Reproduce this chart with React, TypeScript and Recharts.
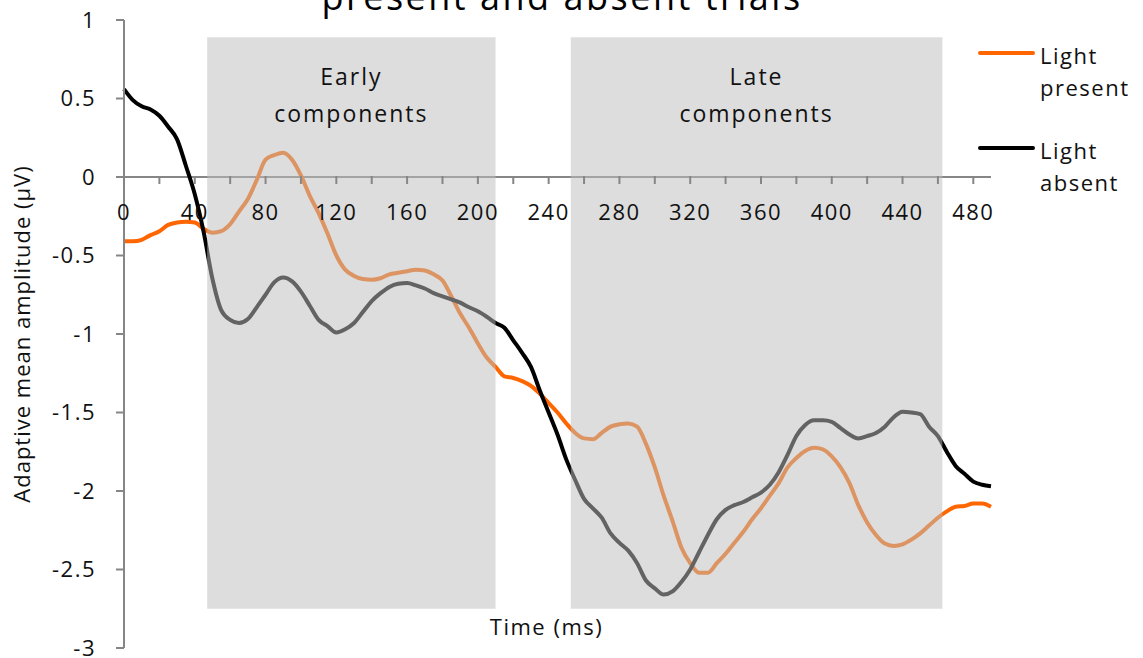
// ERP amplitude over time, light present vs absent, with shaded component windows

import React from 'react';
import {
  LineChart,
  Line,
  XAxis,
  YAxis,
  ReferenceArea,
  ReferenceLine,
  Legend,
  Customized,
} from 'recharts';

const timeMs = [
  0, 5, 10, 15, 20, 25, 30, 35, 40, 45,
  50, 55, 60, 65, 70, 75, 80, 85, 90, 95,
  100, 105, 110, 115, 120, 125, 130, 135, 140, 145,
  150, 155, 160, 165, 170, 175, 180, 185, 190, 195,
  200, 205, 210, 215, 220, 225, 230, 235, 240, 245,
  250, 255, 260, 265, 270, 275, 280, 285, 290, 295,
  300, 305, 310, 315, 320, 325, 330, 335, 340, 345,
  350, 355, 360, 365, 370, 375, 380, 385, 390, 395,
  400, 405, 410, 415, 420, 425, 430, 435, 440, 445,
  450, 455, 460, 465, 470, 475, 480, 485, 490,
];

const lightPresent = [
  -0.41, -0.41, -0.4, -0.37, -0.345, -0.305, -0.29, -0.285, -0.29, -0.33,
  -0.355, -0.345, -0.3, -0.22, -0.14, -0.02, 0.11, 0.14, 0.155, 0.11,
  0.01, -0.12, -0.23, -0.36, -0.5, -0.59, -0.63, -0.65, -0.655, -0.645,
  -0.62, -0.61, -0.6, -0.59, -0.595, -0.62, -0.66, -0.76, -0.87, -0.96,
  -1.06, -1.15, -1.21, -1.27, -1.28, -1.3, -1.33, -1.38, -1.44, -1.5,
  -1.57, -1.63, -1.665, -1.67, -1.63, -1.59, -1.575, -1.57, -1.59, -1.7,
  -1.85, -2.03, -2.19, -2.36, -2.46, -2.52, -2.52, -2.46, -2.4, -2.33,
  -2.26, -2.18, -2.11, -2.03, -1.95, -1.85, -1.79, -1.745, -1.725, -1.735,
  -1.78, -1.85, -1.95, -2.09, -2.2, -2.28, -2.335, -2.35, -2.34, -2.31,
  -2.27, -2.22, -2.17, -2.13, -2.1, -2.095, -2.08, -2.08, -2.1,
];

const lightAbsent = [
  0.56, 0.49, 0.45, 0.43, 0.39, 0.32, 0.24, 0.07, -0.11, -0.35,
  -0.65, -0.85, -0.91, -0.93, -0.905, -0.83, -0.75, -0.67, -0.64, -0.665,
  -0.73, -0.82, -0.91, -0.95, -0.99, -0.97, -0.93, -0.86, -0.79, -0.74,
  -0.7, -0.68, -0.675, -0.69, -0.71, -0.74, -0.76, -0.78, -0.8, -0.83,
  -0.855, -0.89, -0.93, -0.96, -1.04, -1.12, -1.21, -1.36, -1.5, -1.64,
  -1.8, -1.93, -2.05, -2.11, -2.17, -2.27, -2.33, -2.38, -2.46, -2.57,
  -2.62, -2.66, -2.64, -2.58, -2.5, -2.39, -2.28, -2.18, -2.12, -2.09,
  -2.07, -2.04, -2.01, -1.96, -1.88, -1.77, -1.65, -1.58, -1.55, -1.55,
  -1.56, -1.6, -1.64, -1.665, -1.65, -1.63, -1.59, -1.53, -1.495, -1.5,
  -1.51, -1.59, -1.65, -1.75, -1.84, -1.89, -1.94, -1.96, -1.97,
];

const seriesNames = ['Light present', 'Light absent'];
const xTicks = [0, 20, 40, 60, 80, 100, 120, 140, 160, 180, 200, 220, 240, 260, 280, 300, 320, 340, 360, 380, 400, 420, 440, 460, 480];
const yTicks = [-3, -2.5, -2, -1.5, -1, -0.5, 0, 0.5, 1];

const regionStarts = [47, 252.5];
const regionEnds = [210, 462.5];
const regionNames = [['Early', 'components'], ['Late', 'components']];
const regionTop = 0.89;
const regionBottom = -2.75;

const WIDTH = 1143;
const HEIGHT = 658;
const X_AXIS_H = 1;
const MARGIN = { top: 20, right: 152, bottom: 9, left: 0 };
const Y_MIN = -3;
const Y_MAX = 1;
const PLOT_H = HEIGHT - MARGIN.top - MARGIN.bottom - X_AXIS_H;
const ZERO_SHIFT = (PLOT_H * (0 - Y_MIN)) / (Y_MAX - Y_MIN);

const FONT = '"Open Sans", sans-serif';
const AXIS_GRAY = '#868686';
const TEXT = '#111111';

const data = timeMs.map((t, i) => ({ t, present: lightPresent[i], absent: lightAbsent[i] }));

// x axis crosses at y = 0, so ticks are pulled up from the bottom of the plot
const TimeTick = (props: any) => {
  const { x, y, payload } = props;
  const y0 = y - X_AXIS_H - ZERO_SHIFT;
  const v = payload.value;
  return (
    <g>
      {v !== 0 && <line x1={x} x2={x} y1={y0} y2={y0 + 8} stroke={AXIS_GRAY} strokeWidth={2} />}
      {v % 40 === 0 && (
        <text x={x} y={y0 + 44} textAnchor="middle" fill={TEXT} fontSize={22} fontFamily={FONT} letterSpacing={1.5}>
          {v}
        </text>
      )}
    </g>
  );
};

const regionLabel = (lines: string[]) => (props: any) => {
  const vb = props.viewBox || {};
  const cx = vb.x + vb.width / 2;
  return (
    <text textAnchor="middle" fill={TEXT} fontSize={23} fontFamily={FONT} letterSpacing={2}>
      <tspan x={cx} y={vb.y + 48}>{lines[0]}</tspan>
      <tspan x={cx} y={vb.y + 85}>{lines[1]}</tspan>
    </text>
  );
};

const LegendContent = (props: any) => {
  const items = [...(props.payload || [])].sort(
    (a: any, b: any) => seriesNames.indexOf(a.value) - seriesNames.indexOf(b.value),
  );
  return (
    <div style={{ fontFamily: FONT, fontSize: 22, color: TEXT, letterSpacing: 1.5 }}>
      {items.map((p: any, i: number) => (
        <div key={i} style={{ display: 'flex', alignItems: 'flex-start', height: 95 }}>
          <div style={{ width: 57, height: 4, background: p.color, borderRadius: 2, marginTop: 12, marginRight: 5 }} />
          <div style={{ width: 100, lineHeight: '32px' }}>{p.value}</div>
        </div>
      ))}
    </div>
  );
};

const Title = () => (
  <text x={562} y={10} textAnchor="middle" fill="#000" fontSize={36} fontFamily={FONT} letterSpacing={2.5}>
    present and absent trials
  </text>
);

export default function App() {
  return (
    <div style={{ position: 'absolute', left: 0, top: 0, width: WIDTH, height: HEIGHT, background: '#fff' }}>
      <LineChart width={WIDTH} height={HEIGHT} data={data} margin={MARGIN}>
        <XAxis
          type="number"
          dataKey="t"
          domain={[0, 490]}
          ticks={xTicks}
          interval={0}
          height={X_AXIS_H}
          axisLine={false}
          tickLine={false}
          tickSize={0}
          tickMargin={0}
          tick={<TimeTick />}
          label={{
            value: 'Time (ms)',
            position: 'insideBottom',
            offset: 14,
            dx: -11,
            style: { fontFamily: FONT, fontSize: 22, fill: TEXT, letterSpacing: 1.5 },
          }}
        />
        <YAxis
          type="number"
          domain={[Y_MIN, Y_MAX]}
          ticks={yTicks}
          interval={0}
          width={124}
          tickSize={8}
          tickMargin={20}
          axisLine={{ stroke: AXIS_GRAY, strokeWidth: 2 }}
          tickLine={{ stroke: AXIS_GRAY, strokeWidth: 2 }}
          tick={{ fill: TEXT, fontSize: 22, fontFamily: FONT, letterSpacing: 1.5 }}
          label={{
            value: 'Adaptive mean amplitude (µV)',
            angle: -90,
            position: 'insideLeft',
            offset: 22,
            style: { textAnchor: 'middle', fontFamily: FONT, fontSize: 22, fill: TEXT, letterSpacing: 1 },
          }}
        />
        <ReferenceLine y={0} stroke={AXIS_GRAY} strokeWidth={2} ifOverflow="visible" />
        <Line
          type="monotone"
          dataKey="present"
          name={seriesNames[0]}
          stroke="#ff6600"
          strokeWidth={4}
          dot={false}
          isAnimationActive={false}
        />
        <Line
          type="monotone"
          dataKey="absent"
          name={seriesNames[1]}
          stroke="#000000"
          strokeWidth={4}
          dot={false}
          isAnimationActive={false}
        />
        {regionStarts.map((s, i) => (
          <ReferenceArea
            key={i}
            x1={s}
            x2={regionEnds[i]}
            y1={regionBottom}
            y2={regionTop}
            fill="#bdbdbd"
            fillOpacity={0.52}
            stroke="none"
            ifOverflow="visible"
            zIndex={700}
            label={regionLabel(regionNames[i])}
          />
        ))}
        <Legend
          layout="vertical"
          align="center"
          verticalAlign="middle"
          content={<LegendContent />}
          wrapperStyle={{ left: 978, top: 39, width: 165, height: 200 }}
        />
        <Customized component={Title} />
      </LineChart>
    </div>
  );
}
